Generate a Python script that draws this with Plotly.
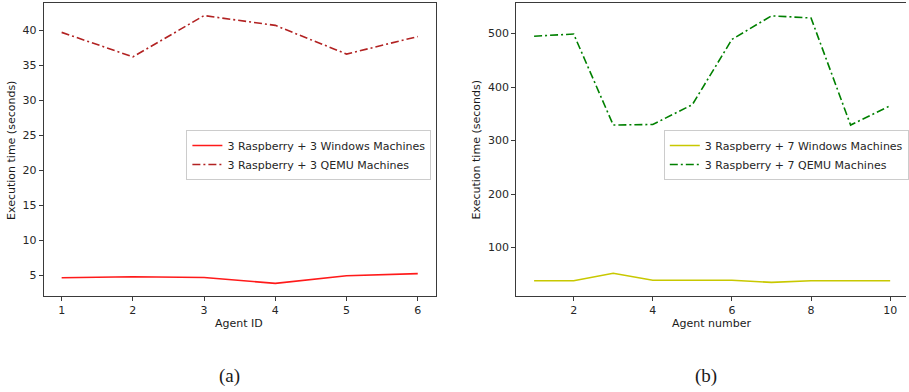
import plotly.graph_objects as go

# Panel (a): 3 Raspberry + 3 machines
agent_ids = [1, 2, 3, 4, 5, 6]
win3_times = [4.6, 4.75, 4.65, 3.8, 4.9, 5.2]
qemu3_times = [39.7, 36.2, 42.1, 40.7, 36.6, 39.1]

# Panel (b): 3 Raspberry + 7 machines
agent_numbers = [1, 2, 3, 4, 5, 6, 7, 8, 9, 10]
win7_times = [38, 38, 52, 39, 39, 39, 35, 38, 38, 38]
qemu7_times = [495, 499, 329, 330, 367, 489, 533, 529, 329, 365]

W, H = 909, 392
FONT = "DejaVu Sans"
SPINE = "#3a3a3a"
DASHDOT = "8px,3px,2px,3px"
FS = 11

fig = go.Figure()

fig.add_trace(go.Scatter(x=agent_ids, y=win3_times, mode="lines",
                         name="3 Raspberry + 3 Windows Machines",
                         line=dict(color="#ff1a1a", width=1.6),
                         xaxis="x", yaxis="y", legend="legend"))
fig.add_trace(go.Scatter(x=agent_ids, y=qemu3_times, mode="lines",
                         name="3 Raspberry + 3 QEMU Machines",
                         line=dict(color="#b22222", width=1.6, dash=DASHDOT),
                         xaxis="x", yaxis="y", legend="legend"))
fig.add_trace(go.Scatter(x=agent_numbers, y=win7_times, mode="lines",
                         name="3 Raspberry + 7 Windows Machines",
                         line=dict(color="#c8c800", width=1.6),
                         xaxis="x2", yaxis="y2", legend="legend2"))
fig.add_trace(go.Scatter(x=agent_numbers, y=qemu7_times, mode="lines",
                         name="3 Raspberry + 7 QEMU Machines",
                         line=dict(color="#008000", width=1.6, dash=DASHDOT),
                         xaxis="x2", yaxis="y2", legend="legend2"))

y_dom = [1 - 296 / H, 1 - 3 / H]
axis_common = dict(showgrid=False, zeroline=False, showline=True, linecolor=SPINE,
                   linewidth=1.2, ticks="outside", ticklen=4, tickcolor=SPINE,
                   tickfont=dict(family=FONT, size=FS, color="#262626"),
                   automargin=False)

legend_common = dict(xanchor="left", yanchor="top", bgcolor="white",
                     bordercolor="#cccccc", borderwidth=1,
                     font=dict(family=FONT, size=FS, color="#262626"),
                     itemwidth=30, tracegroupgap=0)

fig.update_layout(
    width=W, height=H,
    margin=dict(l=0, r=0, t=0, b=0),
    paper_bgcolor="white", plot_bgcolor="white",
    font=dict(family=FONT, size=FS, color="#262626"),
    xaxis=dict(domain=[44 / W, 437 / W], range=[0.75, 6.25],
               tickvals=agent_ids, mirror=True, anchor="y", **axis_common),
    yaxis=dict(domain=y_dom, range=[2.0, 43.9], tickvals=[5, 10, 15, 20, 25, 30, 35, 40],
               mirror=True, anchor="x", **axis_common),
    xaxis2=dict(domain=[518 / W, 1.0], range=[0.55, 10.4],
                tickvals=[2, 4, 6, 8, 10], mirror=True, anchor="y2", **axis_common),
    yaxis2=dict(domain=y_dom, range=[9.5, 557], tickvals=[100, 200, 300, 400, 500],
                mirror=False, anchor="x2", **axis_common),
    legend=dict(x=187 / W, y=1 - 130 / H, **legend_common),
    legend2=dict(x=666 / W, y=1 - 130 / H, **legend_common),
)

# Axis titles and panel captions
texts = [
    dict(x=11, y=150, text="Execution time (seconds)", textangle=-90, size=FS, family=FONT),
    dict(x=478, y=150, text="Execution time (seconds)", textangle=-90, size=FS, family=FONT),
    dict(x=240, y=323, text="Agent ID", textangle=0, size=FS, family=FONT),
    dict(x=714, y=323, text="Agent number", textangle=0, size=FS, family=FONT),
    dict(x=230, y=376, text="(a)", textangle=0, size=19, family="Liberation Serif"),
    dict(x=708, y=376, text="(b)", textangle=0, size=19, family="Liberation Serif"),
]
for t in texts:
    fig.add_annotation(x=t["x"] / W, y=1 - t["y"] / H, xref="paper", yref="paper",
                       text=t["text"], textangle=t["textangle"], showarrow=False,
                       xanchor="center", yanchor="middle",
                       font=dict(family=t["family"], size=t["size"], color="#1a1a1a"))

fig.write_html("out.html")
